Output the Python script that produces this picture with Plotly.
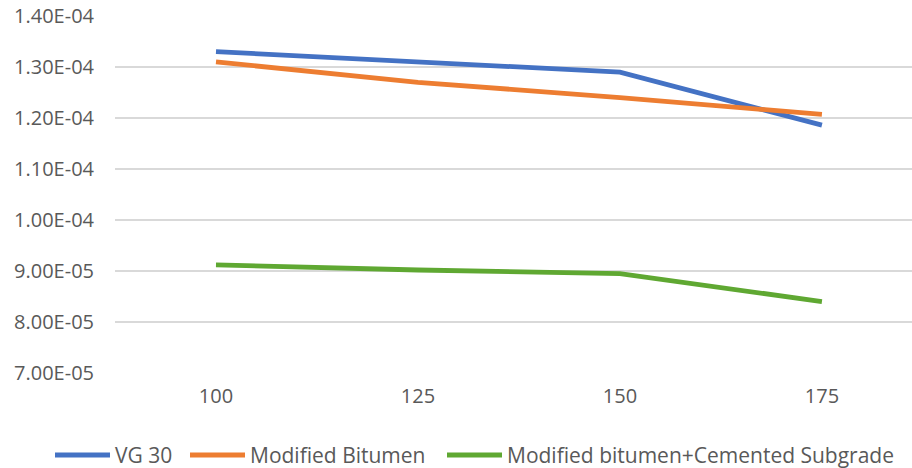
import plotly.graph_objects as go

# Load levels (x) and response values for each pavement configuration
levels = ["100", "125", "150", "175"]
vg30 = [1.33e-4, 1.31e-4, 1.29e-4, 1.186e-4]
modified_bitumen = [1.31e-4, 1.27e-4, 1.24e-4, 1.207e-4]
modified_cemented = [9.12e-5, 9.02e-5, 8.95e-5, 8.40e-5]

y_ticks = [7e-5, 8e-5, 9e-5, 1.0e-4, 1.1e-4, 1.2e-4, 1.3e-4, 1.4e-4]
y_tick_text = ["7.00E-05", "8.00E-05", "9.00E-05", "1.00E-04",
               "1.10E-04", "1.20E-04", "1.30E-04", "1.40E-04"]

series = [
    ("VG 30", vg30, "#4472C4"),
    ("Modified Bitumen", modified_bitumen, "#ED7D31"),
    ("Modified bitumen+Cemented Subgrade", modified_cemented, "#5FA832"),
]

W, H = 912, 468
M_L, M_R, M_T, M_B = 115, 0, 16, 95
plot_w = W - M_L - M_R
plot_h = H - M_T - M_B
text_color = "#595959"


def px_to_paper_x(px):
    return (px - M_L) / plot_w


def px_to_paper_y(py):
    return (H - M_B - py) / plot_h


fig = go.Figure()
for name, values, color in series:
    fig.add_trace(go.Scatter(
        x=levels, y=values, name=name, mode="lines",
        line=dict(color=color, width=4.8),
    ))

# Legend row below the chart: long line swatches followed by the series name
legend_y = 455
legend_slots = [(55, 110), (190, 245), (447, 502)]
for (name, _, color), (x0, x1) in zip(series, legend_slots):
    fig.add_shape(
        type="line", xref="paper", yref="paper",
        x0=px_to_paper_x(x0), x1=px_to_paper_x(x1),
        y0=px_to_paper_y(legend_y), y1=px_to_paper_y(legend_y),
        line=dict(color=color, width=4.8),
    )
    fig.add_annotation(
        xref="paper", yref="paper",
        x=px_to_paper_x(x1 + 3), y=px_to_paper_y(legend_y),
        xanchor="left", yanchor="middle", showarrow=False,
        text=name, font=dict(size=21, color=text_color),
    )

fig.update_layout(
    width=W, height=H,
    margin=dict(l=M_L, r=M_R, t=M_T, b=M_B),
    paper_bgcolor="white", plot_bgcolor="white",
    font=dict(family="Open Sans", size=20, color=text_color),
    showlegend=False,
    xaxis=dict(
        type="category", range=[-0.5, 3.446],
        showgrid=False, showline=False, zeroline=False,
        ticks="", ticklabelstandoff=9,
    ),
    yaxis=dict(
        range=[7e-5, 1.4e-4], tickvals=y_ticks, ticktext=y_tick_text,
        showgrid=True, gridcolor="#D9D9D9", gridwidth=1.5,
        showline=False, zeroline=False, ticks="", ticklabelstandoff=20,
    ),
)

fig.write_html("out.html")
